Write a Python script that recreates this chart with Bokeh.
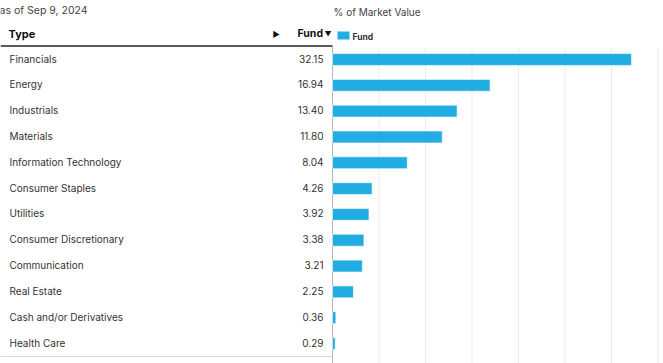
from bokeh.plotting import figure
from bokeh.models import Range1d, ColumnDataSource, Label
from bokeh.core.properties import value
from bokeh.embed import file_html
from bokeh.resources import INLINE

categories = ["Financials", "Energy", "Industrials", "Materials", "Information Technology",
              "Consumer Staples", "Utilities", "Consumer Discretionary", "Communication",
              "Real Estate", "Cash and/or Derivatives", "Health Care"]
fund = [32.15, 16.94, 13.40, 11.80, 8.04, 4.26, 3.92, 3.38, 3.21, 2.25, 0.36, 0.29]
grid_ticks = [0, 5, 10, 15, 20, 25, 30, 35]
as_of = "as of Sep 9, 2024"
axis_title = "% of Market Value"
series_name = "Fund"

W, H = 663, 363
X0PX = 332.0        # pixel of value 0
PXU = 9.3           # pixels per unit
ROW0 = 59.0         # pixel of first row centre
ROWH = 25.82        # pixel per row

def px2x(px):
    return (px - X0PX) / PXU

def px2y(py):
    return (py - ROW0) / ROWH

p = figure(width=W, height=H, output_backend="svg", toolbar_location=None,
           x_range=Range1d(px2x(0), px2x(W)), y_range=Range1d(px2y(H), px2y(0)),
           min_border=0, outline_line_color=None)
p.axis.visible = False
p.grid.visible = False
p.background_fill_color = "white"
p.border_fill_color = "white"

font = value("Inter")
rows = list(range(len(categories)))
src = ColumnDataSource(dict(y=rows, cat=categories, val=fund,
                            lab=["%.2f" % v for v in fund]))

# gridlines
p.segment(x0=grid_ticks, x1=grid_ticks, y0=[px2y(47)] * len(grid_ticks),
          y1=[px2y(H)] * len(grid_ticks), line_color="#ebebeb", line_width=1)
# axis line
p.segment(x0=[0], x1=[0], y0=[px2y(46)], y1=[px2y(H)], line_color="#b5b5b5", line_width=1)

# bars
p.hbar(y="y", left=0, right="val", height=0.46, source=src,
       fill_color="#22ade2", line_color="#ffffff", line_width=0.6)

# table texts
p.text(x=px2x(9), y="y", text="cat", source=src, text_font=font, text_font_size="10px",
       text_color="#333333", text_baseline="middle", text_align="left", y_offset=-1)
p.text(x=px2x(323), y="y", text="lab", source=src, text_font=font, text_font_size="10px",
       text_color="#333333", text_baseline="middle", text_align="right", y_offset=-1)

# header lines
p.segment(x0=[px2x(0)], x1=[px2x(332)], y0=[px2y(45.5)], y1=[px2y(45.5)],
          line_color="#222222", line_width=1.6)
p.segment(x0=[px2x(0)], x1=[px2x(332)], y0=[px2y(356)], y1=[px2y(356)],
          line_color="#d9d9d9", line_width=1)

def lab(text, xpx, ypx, size="10px", style="normal", color="#333333", align="left"):
    p.add_layout(Label(x=xpx, y=H - ypx, x_units="screen", y_units="screen", text=text,
                       text_font="Inter", text_font_size=size, text_font_style=style,
                       text_color=color, text_align=align, text_baseline="middle"))

lab(as_of, -1, 10, size="10.5px", color="#444444")
lab(axis_title, 333, 11, size="10px", color="#444444")
lab("Type", 8, 33, size="11px", style="bold", color="#111111")
lab("\u25b6", 272, 33, size="8px", color="#111111")
lab(series_name, 297, 32.5, size="10.5px", style="bold", color="#111111")
lab("\u25bc", 324, 33.5, size="7px", color="#111111")
# legend
p.quad(left=[px2x(337)], right=[px2x(349)], top=[px2y(31)], bottom=[px2y(39)],
       fill_color="#22ade2", line_color=None)
lab(series_name, 352, 36, size="8.5px", style="bold", color="#333333")

open("out.html", "w").write(file_html(p, INLINE))
